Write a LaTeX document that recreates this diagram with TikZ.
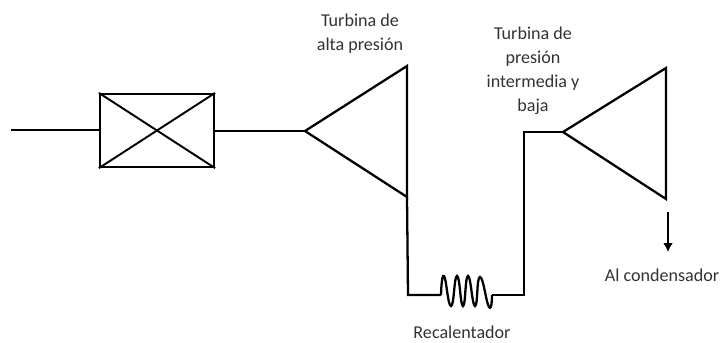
\documentclass[tikz,border=0pt]{standalone}
\usepackage{fontspec}
\setmainfont{Carlito}
\usetikzlibrary{arrows.meta}
\definecolor{labelgray}{HTML}{333333}
\tikzset{
  pipe/.style={line width=1.3pt,line join=miter},
  thinpipe/.style={line width=1.1pt},
  label/.style={text=labelgray,font=\fontsize{10.3}{13.6}\selectfont,align=center,inner sep=0pt}
}
\begin{document}
\begin{tikzpicture}[x=0.02cm,y=-0.02cm]
  \useasboundingbox (0,0) rectangle (720,342);
  \node[draw,pipe,minimum width=114*0.02cm,minimum height=73*0.02cm,inner sep=0pt] (valve) at (157,130.5) {};
  \draw[thinpipe] (valve.north west) -- (valve.south east);
  \draw[thinpipe] (valve.south west) -- (valve.north east);
  \coordinate (inlet) at (11,130);
  \draw[thinpipe] (inlet) -- (inlet -| valve.west);
  % first turbine
  \coordinate (hpin) at (305,131);
  \coordinate (hptop) at (407,66);
  \coordinate (hpbot) at (407,197);
  \draw[pipe] (hpin) -- (hptop) -- (hpbot) -- cycle;
  \draw[thinpipe] (valve.east |- hpin) -- (hpin);
  % second turbine
  \coordinate (lpin) at (563,132);
  \coordinate (lptop) at (666,68);
  \coordinate (lpbot) at (666,199);
  \draw[pipe] (lpin) -- (lptop) -- (lpbot) -- cycle;
  % reheater
  \coordinate (recin) at (441,295);
  \coordinate (recout) at (492,295);
  \coordinate (hpdown) at (408,295);
  \coordinate (lpup) at (524,295);
  \draw[pipe] (hpbot) -- (hpdown) -- (recin);
  \draw[pipe,smooth,tension=0.9] plot coordinates {(recin) (444,276) (451,306) (457,276) (463,306) (468,276) (475,306) (480,277) (489,307) (recout)};
  \draw[pipe] (recout) -- (lpup) -- (524,132) -- (lpin);
  % arrow to condenser
  \coordinate (outa) at (668,212);
  \coordinate (outb) at (668,252);
  \draw[thinpipe,-{Latex[length=5pt,width=5.5pt]}] (outa) -- (outb);
  \node[label] (hplabel) at (360,34) {Turbina de\\alta presión};
  \node[label] (lplabel) at (533,71) {Turbina de\\presión\\intermedia y\\baja};
  \node[label] (condlabel) at (662,275) {Al condensador};
  \node[label] (reclabel) at (462,332) {Recalentador};
\end{tikzpicture}
\end{document}
